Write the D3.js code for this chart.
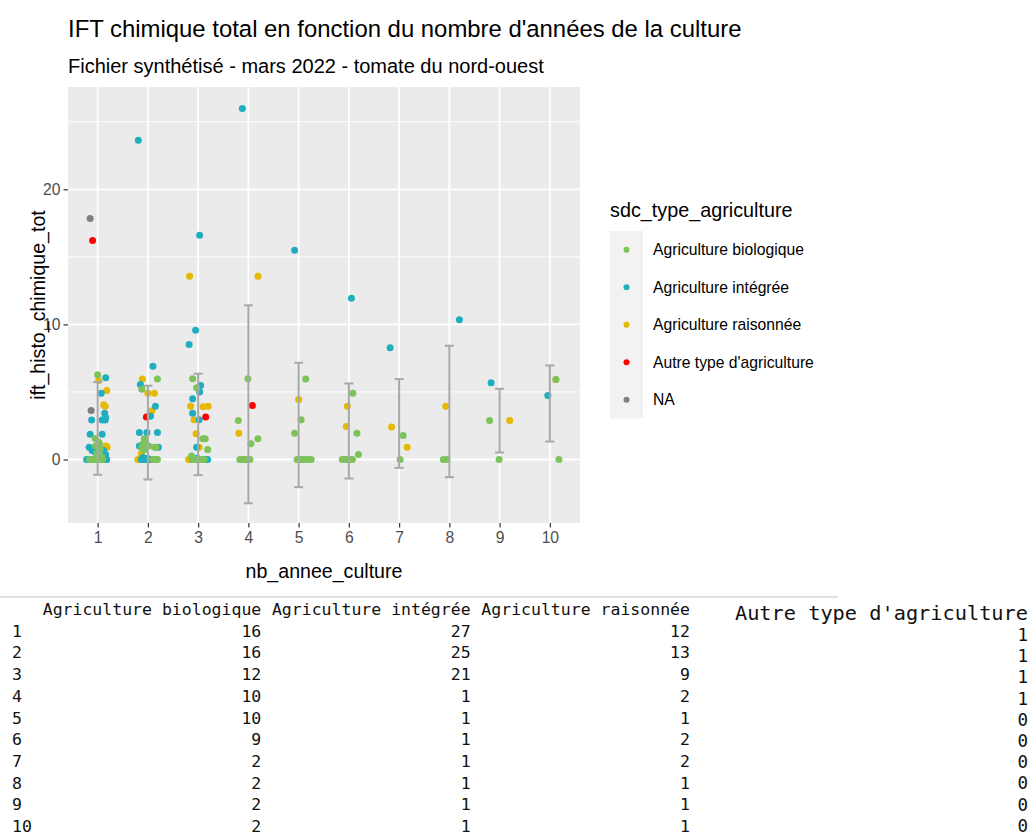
<!DOCTYPE html>
<html>
<head>
<meta charset="utf-8">
<script src="https://cdn.jsdelivr.net/npm/d3@7"></script>
<style>
  body { margin: 0; background: #ffffff; }
  svg { display: block; font-family: "Liberation Sans", Arial, sans-serif; }
</style>
</head>
<body>
<svg id="chart" width="1031" height="837"></svg>
<script>
// ---- data -------------------------------------------------------------
const years = [1, 2, 3, 4, 5, 6, 7, 8, 9, 10];
const yTicks = [0, 10, 20];
const yMinor = [5, 15, 25];

const typeNames = ["Agriculture biologique", "Agriculture intégrée", "Agriculture raisonnée",
                   "Autre type d'agriculture", "NA"];
const typeColors = ["#7DC35B", "#1FAEBF", "#E6B800", "#FF0000", "#7F7F7F"];

// [jittered nb_annee_culture, ift_histo_chimique_tot]
const bioPoints = [
  [1.00, 6.27], [0.95, 1.55], [1.02, 1.3], [0.96, 1.0], [1.05, 0.75], [0.98, 0.45], [1.04, 1.15],
  [0.88, 0], [0.92, 0], [1.00, 0], [1.06, 0], [1.10, 0], [0.84, 0], [0.97, 0], [1.03, 0], [1.08, 0.2],
  [2.19, 5.95], [1.88, 5.2], [1.93, 1.53], [1.90, 1.15], [1.88, 0.9], [2.13, 0.91], [1.95, 1.3],
  [1.92, 0.7], [2.02, 1.0], [2.12, 0], [2.18, 0], [2.15, 0], [2.16, 0.9], [2.10, 0], [2.14, 0], [2.19, 0],
  [2.89, 5.98], [2.97, 5.31], [3.09, 1.53], [3.14, 1.53], [3.19, 0.74], [2.87, 0.25],
  [3.02, 0], [3.08, 0], [2.90, 0], [3.12, 0], [2.95, 0], [3.05, 0],
  [3.99, 5.98], [3.80, 2.89], [4.19, 1.53], [4.05, 1.16], [3.83, 0], [3.88, 0], [3.95, 0], [4.03, 0],
  [3.91, 0], [3.99, 0],
  [5.14, 5.95], [5.05, 2.94], [4.92, 1.95], [4.97, 0], [5.07, 0], [5.17, 0], [5.25, 0], [5.02, 0],
  [5.11, 0], [5.21, 0],
  [6.08, 4.91], [6.16, 1.95], [6.19, 0.37], [5.87, 0], [6.07, 0], [5.92, 0], [5.97, 0], [6.02, 0], [5.89, 0],
  [7.08, 1.78], [7.02, 0],
  [7.88, 0], [7.95, 0],
  [8.80, 2.89], [8.99, 0],
  [10.12, 5.93], [10.18, 0]
];
const intPoints = [
  [1.16, 6.05], [1.07, 4.9], [1.14, 3.43], [1.16, 3.1], [0.88, 2.92], [1.09, 2.92], [1.15, 2.92],
  [0.85, 1.87], [1.09, 1.87], [0.83, 0.9], [0.89, 0.67], [1.12, 0.67], [0.95, 0.54], [1.16, 0.37],
  [0.78, 0], [0.82, 0], [0.94, 0], [1.04, 0], [1.11, 0], [1.17, 0], [1.14, 0], [0.80, 0], [1.07, 0],
  [0.90, 0], [1.01, 0], [0.86, 0], [1.13, 0],
  [1.81, 23.63], [2.10, 6.9], [1.85, 5.55], [2.15, 3.95], [2.05, 3.2], [1.83, 2.0], [1.98, 2.0],
  [2.19, 2.0], [1.83, 1.0], [2.21, 0.91], [1.89, 0], [1.93, 0], [1.96, 0], [2.03, 0], [2.00, 0],
  [1.87, 0], [2.06, 0], [1.91, 0], [1.99, 0.1], [1.95, 0], [2.01, 0], [1.90, 0.15], [2.04, 0],
  [1.92, 0], [1.97, 0],
  [3.03, 16.6], [2.95, 9.56], [2.82, 8.52], [3.05, 5.48], [3.03, 4.99], [2.89, 4.5], [2.89, 3.43],
  [3.02, 2.94], [2.97, 0.91], [2.89, 0], [2.96, 0], [3.06, 0], [3.13, 0], [3.19, 0], [3.00, 0],
  [2.93, 0], [3.10, 0], [3.16, 0], [2.98, 0.1], [3.04, 0], [2.91, 0],
  [3.88, 25.98],
  [4.92, 15.48],
  [6.05, 11.93],
  [6.82, 8.27],
  [8.20, 10.35],
  [8.83, 5.68],
  [9.96, 4.74]
];
const raisPoints = [
  [1.02, 5.85], [1.18, 5.1], [1.12, 4.05], [1.15, 3.95], [1.19, 0.9], [1.17, 1.0],
  [0.86, 0], [0.93, 0], [1.05, 0], [1.12, 0], [0.99, 0], [1.09, 0],
  [1.89, 5.95], [2.00, 4.9], [2.13, 4.9], [2.08, 3.6], [2.06, 3.5], [1.87, 0.42], [1.86, 0.9],
  [1.80, 0], [1.84, 0], [1.86, 0], [1.95, 0], [2.03, 0], [1.91, 0],
  [2.83, 13.56], [2.85, 3.95], [3.10, 3.9], [3.20, 3.95], [2.92, 2.94], [2.96, 1.9], [3.02, 0.91],
  [2.81, 0], [2.85, 0],
  [3.81, 1.95], [4.19, 13.56],
  [5.00, 4.44],
  [5.97, 3.95], [5.95, 2.44],
  [6.85, 2.4], [7.16, 0.91],
  [7.93, 3.95],
  [9.20, 2.89],
  [10.12, 5.93]
];
const autrePoints = [[0.90, 16.2], [1.97, 3.14], [3.15, 3.14], [4.08, 4.0]];
const naPoints = [[0.85, 17.83], [0.87, 3.62], [1.18, 0]];

// mean ± standard deviation per year
const errLow  = [-1.13, -1.48, -1.16, -3.24, -2.05, -1.41, -0.62, -1.31, 0.52, 1.33];
const errHigh = [ 5.73,  5.46,  6.35, 11.41,  7.16,  5.63,  5.95,  8.42, 5.23, 6.96];

// counts table printed below the chart
const tableRows  = ["1", "2", "3", "4", "5", "6", "7", "8", "9", "10"];
const tableBio   = [16, 16, 12, 10, 10, 9, 2, 2, 2, 2];
const tableInt   = [27, 25, 21, 1, 1, 1, 1, 1, 1, 1];
const tableRais  = [12, 13, 9, 2, 1, 2, 2, 1, 1, 1];
const tableAutre = [1, 1, 1, 1, 0, 0, 0, 0, 0, 0];

// ---- layout -----------------------------------------------------------
const svg = d3.select("#chart");
svg.append("rect").attr("width", 1031).attr("height", 837).attr("fill", "#ffffff");

const panel = { left: 68, right: 580, top: 87, bottom: 523 };
const x = d3.scaleLinear().domain([0.41, 10.6]).range([panel.left, panel.right]);
const y = d3.scaleLinear().domain([-4.7, 27.57]).range([panel.bottom, panel.top]);

// titles
svg.append("text").attr("x", 68).attr("y", 37).attr("font-size", 23.9).attr("fill", "#000")
  .text("IFT chimique total en fonction du nombre d'années de la culture");
svg.append("text").attr("x", 68).attr("y", 73).attr("font-size", 20).attr("fill", "#000")
  .text("Fichier synthétisé - mars 2022 - tomate du nord-ouest");

// panel background and grid
svg.append("rect").attr("x", panel.left).attr("y", panel.top)
  .attr("width", panel.right - panel.left).attr("height", panel.bottom - panel.top)
  .attr("fill", "#EBEBEB");
const grid = svg.append("g");
grid.selectAll("line.minor").data(yMinor).join("line")
  .attr("x1", panel.left).attr("x2", panel.right)
  .attr("y1", d => y(d)).attr("y2", d => y(d))
  .attr("stroke", "#fff").attr("stroke-width", 0.9);
grid.selectAll("line.majy").data(yTicks).join("line")
  .attr("x1", panel.left).attr("x2", panel.right)
  .attr("y1", d => y(d)).attr("y2", d => y(d))
  .attr("stroke", "#fff").attr("stroke-width", 1.8);
grid.selectAll("line.majx").data(years).join("line")
  .attr("y1", panel.top).attr("y2", panel.bottom)
  .attr("x1", d => x(d)).attr("x2", d => x(d))
  .attr("stroke", "#fff").attr("stroke-width", 1.8);

// axes
const xAxis = svg.append("g").attr("transform", `translate(0,${panel.bottom})`)
  .call(d3.axisBottom(x).tickValues(years).tickSize(4.5).tickPadding(4).tickFormat(d3.format("d")));
const yAxis = svg.append("g").attr("transform", `translate(${panel.left},0)`)
  .call(d3.axisLeft(y).tickValues(yTicks).tickSize(4.5).tickPadding(3));
[xAxis, yAxis].forEach(a => {
  a.select(".domain").remove();
  a.selectAll(".tick line").attr("stroke", "#333").attr("stroke-width", 1.2);
  a.selectAll(".tick text").attr("fill", "#4D4D4D").attr("font-size", 15.7)
    .attr("font-family", "'Liberation Sans', Arial, sans-serif");
});

svg.append("text").attr("x", (panel.left + panel.right) / 2).attr("y", 578)
  .attr("text-anchor", "middle").attr("font-size", 19.6).attr("fill", "#000")
  .text("nb_annee_culture");
svg.append("text")
  .attr("transform", `translate(45,${(panel.top + panel.bottom) / 2}) rotate(-90)`)
  .attr("text-anchor", "middle").attr("font-size", 19.6).attr("fill", "#000")
  .text("ift_histo_chimique_tot");

// points (drawn group by group)
const layers = [
  { pts: naPoints, color: typeColors[4] },
  { pts: autrePoints, color: typeColors[3] },
  { pts: raisPoints, color: typeColors[2] },
  { pts: intPoints, color: typeColors[1] },
  { pts: bioPoints, color: typeColors[0] }
];
const pointsG = svg.append("g");
layers.forEach(layer => {
  pointsG.append("g").selectAll("circle").data(layer.pts).join("circle")
    .attr("cx", d => x(d[0])).attr("cy", d => y(d[1])).attr("r", 3.5)
    .attr("fill", layer.color);
});

// error bars
const capHalf = 0.09;
const eb = svg.append("g").attr("stroke", "#A8A8A8").attr("stroke-width", 2).attr("fill", "none");
years.forEach((yr, i) => {
  eb.append("line").attr("x1", x(yr)).attr("x2", x(yr))
    .attr("y1", y(errLow[i])).attr("y2", y(errHigh[i]));
  [errLow[i], errHigh[i]].forEach(v => {
    eb.append("line").attr("x1", x(yr - capHalf)).attr("x2", x(yr + capHalf))
      .attr("y1", y(v)).attr("y2", y(v));
  });
});

// legend
const legend = svg.append("g");
legend.append("text").attr("x", 610).attr("y", 217).attr("font-size", 19.8).attr("fill", "#000")
  .text("sdc_type_agriculture");
const keyH = 37.5, keyTop = 231;
legend.append("rect").attr("x", 610).attr("y", keyTop).attr("width", 33)
  .attr("height", keyH * typeNames.length).attr("fill", "#F2F2F2");
typeNames.forEach((name, i) => {
  const cy = keyTop + keyH * (i + 0.5);
  legend.append("circle").attr("cx", 626.5).attr("cy", cy).attr("r", 3).attr("fill", typeColors[i]);
  legend.append("text").attr("x", 653).attr("y", cy + 5.6).attr("font-size", 15.7).attr("fill", "#000")
    .text(name);
});

// separator and counts table
svg.append("rect").attr("x", 0).attr("y", 596).attr("width", 838).attr("height", 2).attr("fill", "#E2E2E2");

const mono = "'DejaVu Sans Mono', 'Liberation Mono', monospace";
const cw = 9.97;
const colEnds = [12 + 25 * cw, 12 + 46 * cw, 12 + 68 * cw];
const headers = ["Agriculture biologique", "Agriculture intégrée", "Agriculture raisonnée"];
const table = svg.append("g").attr("font-family", mono).attr("font-size", 16.5).attr("fill", "#111");
const rowH = 21.7, headY = 615;
headers.forEach((h, j) => {
  table.append("text").attr("x", colEnds[j]).attr("y", headY).attr("text-anchor", "end").text(h);
});
const cols = [tableBio, tableInt, tableRais];
tableRows.forEach((r, i) => {
  const by = headY + rowH * (i + 1);
  table.append("text").attr("x", 12).attr("y", by).text(r);
  cols.forEach((c, j) => {
    table.append("text").attr("x", colEnds[j]).attr("y", by).attr("text-anchor", "end").text(c[i]);
  });
});

const table2 = svg.append("g").attr("font-family", mono).attr("fill", "#111");
table2.append("text").attr("x", 1028).attr("y", 620).attr("text-anchor", "end")
  .attr("font-size", 20.3).text("Autre type d'agriculture");
tableAutre.forEach((v, i) => {
  table2.append("text").attr("x", 1028).attr("y", 641 + 21.2 * i).attr("text-anchor", "end")
    .attr("font-size", 17.5).text(v);
});
</script>
</body>
</html>
